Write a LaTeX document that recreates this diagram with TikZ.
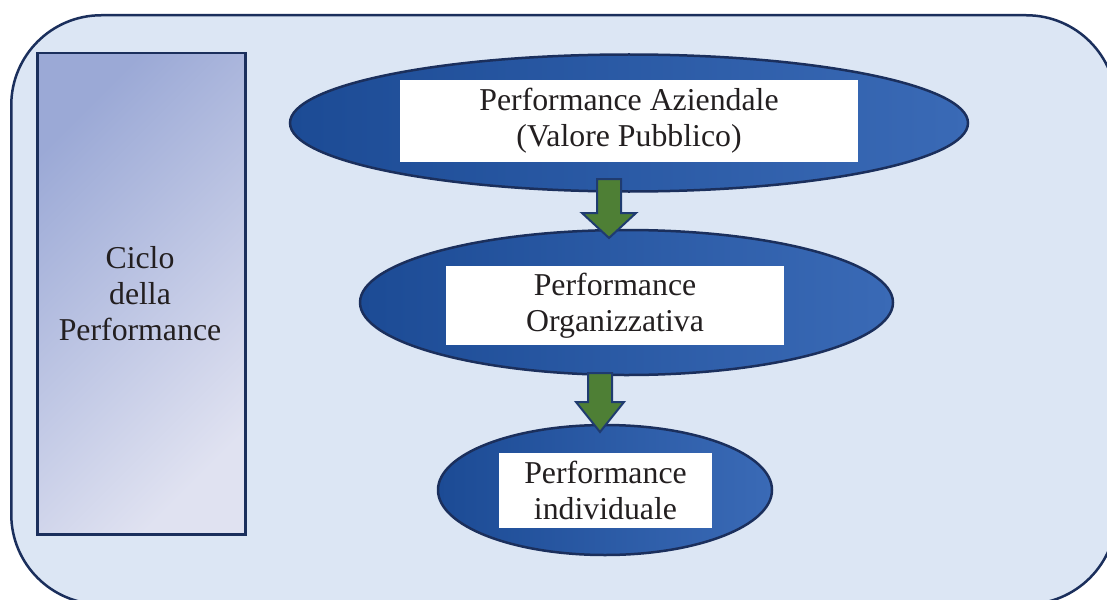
\documentclass[tikz,border=0pt]{standalone}
\usepackage{fontspec}
\setmainfont{Liberation Serif}
\usetikzlibrary{shapes.geometric}
\definecolor{bgfill}{HTML}{DCE6F4}
\definecolor{navy}{HTML}{1B2F5C}
\definecolor{lrA}{HTML}{9BA9D6}
\definecolor{lrB}{HTML}{E0E2F1}
\definecolor{elA}{HTML}{1C4B95}
\definecolor{elB}{HTML}{3A6AB6}
\definecolor{arrfill}{HTML}{4E7F35}
\definecolor{arrline}{HTML}{1F3B70}
\definecolor{txt}{HTML}{231F20}
\tikzset{
  frame/.style={draw=navy, line width=2.5pt, fill=bgfill, rounded corners=90pt, inner sep=0pt},
  sidebox/.style={draw=navy, line width=2.5pt, shading=axis, top color=lrA, bottom color=lrB, shading angle=45, inner sep=0pt},
  ell/.style={ellipse, draw=navy, line width=2.5pt, shading=axis, left color=elA, right color=elB, inner sep=0pt},
  wbox/.style={fill=white, inner sep=0pt, align=center, text=txt, font=\fontsize{31.8}{36}\selectfont},
  sidetext/.style={align=center, text=txt, font=\fontsize{31.8}{36}\selectfont},
  barrow/.style={draw=arrline, line width=2pt, fill=arrfill, line join=miter}
}
\newcommand\blockarrowdraw[6]{% x, ytop, yhead, ytip, shafthalf, headhalf
  \draw[barrow] ({#1-#5},#2) -- ({#1+#5},#2) -- ({#1+#5},#3) -- ({#1+#6},#3) -- (#1,#4) -- ({#1-#6},#3) -- ({#1-#5},#3) -- cycle;}
\begin{document}
\begin{tikzpicture}[x=1pt,y=-1pt]
\useasboundingbox (0,0) rectangle (1107,599);
\clip (0,0) rectangle (1107,599);
\fill[white] (0,0) rectangle (1107,599);
\node[frame, minimum width=1105pt, minimum height=589pt, anchor=north west] (outer) at (10,14) {};
\node[sidebox, minimum width=208pt, minimum height=481pt, anchor=north west] (side) at (36,52) {};
\node[sidetext] (sidet) at (140,294) {Ciclo\\della\\Performance};
\node[ell, minimum width=678pt, minimum height=137pt] (e1) at (629,123) {};
\node[ell, minimum width=533pt, minimum height=145pt] (e2) at (626.5,302.5) {};
\node[ell, minimum width=334pt, minimum height=130pt] (e3) at (605,490) {};
\node[wbox, minimum width=458pt, minimum height=82pt] (b1) at (629,121) {Performance Aziendale\\(Valore Pubblico)};
\node[wbox, minimum width=338pt, minimum height=79pt] (b2) at (615,305.5) {Performance\\Organizzativa};
\node[wbox, minimum width=213pt, minimum height=75pt] (b3) at (605.5,490.5) {Performance\\individuale};
\blockarrowdraw{609}{179}{213}{238}{12}{27}
\blockarrowdraw{600}{373}{402}{432}{12}{24}
\end{tikzpicture}
\end{document}
